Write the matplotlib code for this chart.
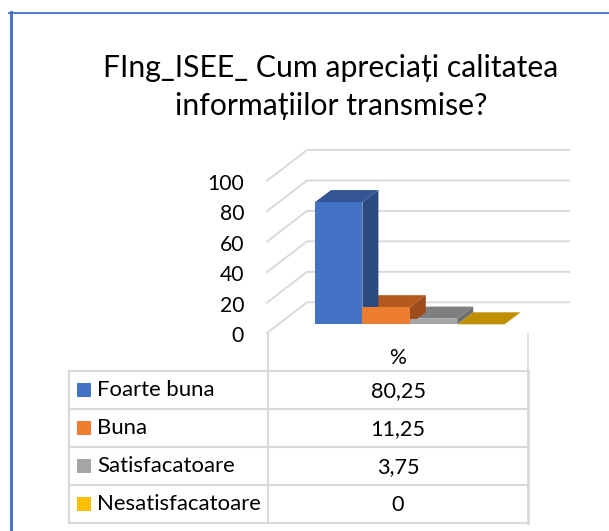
from matplotlib import pyplot as plt
from matplotlib.patches import Polygon, Rectangle
from matplotlib.transforms import ScaledTranslation

categories = ["Foarte buna", "Buna", "Satisfacatoare", "Nesatisfacatoare"]
values = [80.25, 11.25, 3.75, 0]
value_labels = ["80,25", "11,25", "3,75", "0"]
yticks = [0, 20, 40, 60, 80, 100]
series_name = "%"
title = "FIng_ISEE_ Cum apreciați calitatea\ninformațiilor transmise?"

front_colors = ["#4472c4", "#ed7d31", "#a5a5a5", "#ffc000"]
top_colors = ["#335593", "#b5591f", "#7f7f7f", "#bf9000"]
side_colors = ["#2b4a80", "#9c4d1b", "#6e6e6e", "#a67d00"]
GRID = "#d9d9d9"
INK = "#000000"

W, H = 609, 531
plt.rcParams['font.family'] = ['Lato', 'DejaVu Sans']

fig = plt.figure(figsize=(W / 100, H / 100), dpi=100)

# overlay in pixel coordinates: frame, title, data table
page = fig.add_axes([0, 0, 1, 1])
page.set_xlim(0, W)
page.set_ylim(H, 0)
page.axis('off')

page.plot([9, 609], [12.8, 12.8], color="#4472c4", lw=1.3)
page.plot([10.5, 10.5], [12, H], color="#4472c4", lw=2.1)
page.text(331, 87, title, ha='center', va='center', fontsize=21.7,
          color=INK, linespacing=1.42)

# data table
TL, TM, TR = 69, 268, 528
rows_y = [371, 409, 447, 485, 523]
page.plot([TM, TM], [334, rows_y[-1]], color=GRID, lw=1.5)
page.plot([TR, TR], [334, rows_y[0]], color=GRID, lw=1.2)
page.plot([TR, TR], [rows_y[0], rows_y[-1]], color=GRID, lw=2)
page.plot([TL, TL], [rows_y[0], rows_y[-1]], color=GRID, lw=1.5)
for y in rows_y:
    page.plot([TL, TR], [y, y], color=GRID, lw=1.5)
page.text((TM + TR) / 2, 358, series_name, ha='center', va='center',
          fontsize=15.2, color=INK)
for i, name in enumerate(categories):
    cy = (rows_y[i] + rows_y[i + 1]) / 2
    page.add_patch(Rectangle((77, cy - 7), 14, 14, color=front_colors[i], lw=0))
    page.text(97, cy, name, ha='left', va='center', fontsize=15.9, color=INK)
    page.text((TM + TR) / 2, cy + 1, value_labels[i], ha='center', va='center',
              fontsize=15.6, color=INK)

# chart axes: y is the value scale on the front plane, x is bar widths
PX_LEFT, PX_RIGHT, PX_ZERO, PX_TOP = 267, 569, 333, 149.5
PX_PER_VAL = 1.523
PX_PER_BAR = 47.4
BAR0 = 315

ax = fig.add_axes([PX_LEFT / W, 1 - PX_ZERO / H,
                   (PX_RIGHT - PX_LEFT) / W, (PX_ZERO - PX_TOP) / H])
ax.patch.set_alpha(0)
ax.set_xlim((PX_LEFT - BAR0) / PX_PER_BAR, (PX_RIGHT - BAR0) / PX_PER_BAR)
ax.set_ylim(0, (PX_ZERO - PX_TOP) / PX_PER_VAL)
for s in ax.spines.values():
    s.set_visible(False)
ax.set_xticks([])
ax.set_yticks(yticks)
ax.tick_params(axis='y', length=0, pad=16.5, labelsize=15.2, labelcolor=INK)
for lab in ax.get_yticklabels():
    lab.set_transform(lab.get_transform()
                      + ScaledTranslation(0, -1 / 100, fig.dpi_scale_trans))

# walls: diagonal on the floor side, horizontal along the back
wall_dx = 40 / PX_PER_BAR
wall_dy = 30.7 / PX_PER_VAL
x0 = ax.get_xlim()[0]
x1 = ax.get_xlim()[1]
for v in yticks:
    ax.plot([x0, x0 + wall_dx, x1], [v, v + wall_dy, v + wall_dy],
            color=GRID, lw=1.4, clip_on=False, zorder=1,
            solid_joinstyle='miter')

# bars sit part way into the floor, with a sheared top and side
base = 8.7 / PX_PER_VAL
depth_x = 16 / PX_PER_BAR
depth_y = 12 / PX_PER_VAL
for i, v in reversed(list(enumerate(values))):
    top = base + v
    ax.add_patch(Polygon([(i + 1, base), (i + 1 + depth_x, base + depth_y),
                          (i + 1 + depth_x, top + depth_y), (i + 1, top)],
                         facecolor=side_colors[i], lw=0, zorder=3))
    ax.add_patch(Polygon([(i, top), (i + 1, top), (i + 1 + depth_x, top + depth_y),
                          (i + depth_x, top + depth_y)],
                         facecolor=top_colors[i], lw=0, zorder=3))
    ax.bar(i, v, width=1, bottom=base, align='edge', color=front_colors[i],
           lw=0, zorder=4)

fig.savefig("out.png", dpi=100, facecolor="white")
